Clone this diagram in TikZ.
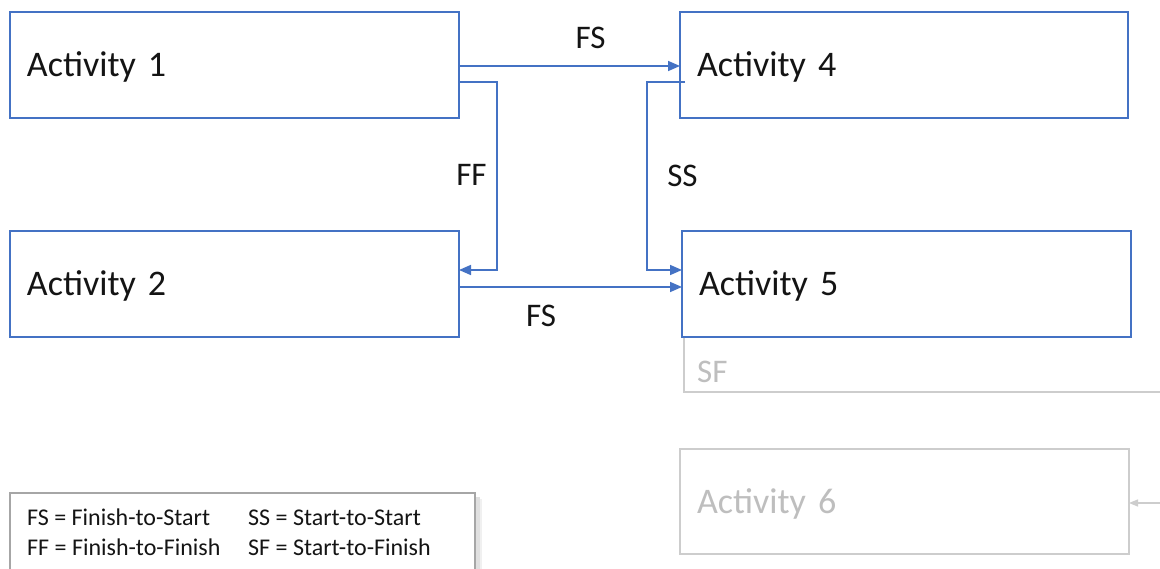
\documentclass[tikz,border=0pt]{standalone}
\usepackage{fontspec}
\setmainfont{Carlito}
\usetikzlibrary{arrows.meta,calc}
\definecolor{obl}{RGB}{68,114,196}
\definecolor{lgr}{RGB}{205,205,205}
\definecolor{tgr}{RGB}{190,190,190}
\definecolor{txt}{RGB}{20,20,20}
\tikzset{
  actbox/.style={draw=obl, line width=2pt, rectangle, minimum height=106pt,
    inner xsep=17pt, inner ysep=0pt, text width=#1, align=left, outer sep=0pt,
    text height=23.2pt, text depth=0pt, font=\fontsize{36}{40}\selectfont, text=txt},
  greybox/.style={draw=lgr, line width=1.6pt, rectangle, minimum height=105pt,
    inner xsep=17pt, inner ysep=0pt, text width=#1, align=left, outer sep=0pt,
    text height=23.2pt, text depth=0pt, font=\fontsize{36}{40}\selectfont, text=tgr},
  conn/.style={draw=obl, line width=1.6pt, -{Triangle[length=12pt,width=10pt]}},
  lbl/.style={inner sep=0pt, font=\fontsize{33}{36}\selectfont, text=txt},
  leg/.style={inner sep=0pt, anchor=west, font=\fontsize{24}{28}\selectfont, text=txt},
}
\begin{document}
\begin{tikzpicture}[x=1pt,y=-1pt]
\useasboundingbox (0,0) rectangle (1160,569);
\fill[white] (0,0) rectangle (1160,569);
% boxes
\node[actbox=415pt] (a1) at (234.5,65) {Activity 1};
\node[actbox=415pt] (a2) at (234.5,284) {Activity 2};
\node[actbox=414pt] (a4) at (904,65) {Activity 4};
\node[actbox=415pt] (a5) at (906.5,284) {Activity 5};
\node[greybox=415pt] (a6) at (904.5,501.5) {Activity 6};
% SF faded box
\draw[lgr, line width=1.4pt] (684,338) -- (684,392) -- (1160,392);
\coordinate (sfe) at (1160,503);
\draw[lgr, line width=1.2pt, -{Triangle[length=9pt,width=7pt]}] (sfe) -- (a6.east |- sfe);
\node[lbl, text=tgr, anchor=west] (lsf) at (697,372) {SF};
% connectors
\draw[conn] ($(a1.east)+(0,1)$) -- ($(a4.west)+(0,1)$);
\draw[conn] ($(a1.east)+(0,17)$) -| (497,176) |- ($(a2.east)+(0,-14)$);
\draw[conn] ($(a4.west)+(5,17)$) -| (647,176) |- ($(a5.west)+(0,-14)$);
\draw[conn] ($(a2.east)+(0,3)$) -- ($(a5.west)+(0,3)$);
% labels
\node[lbl] (lfs1) at (590.5,38) {FS};
\node[lbl] (lff) at (471.5,175) {FF};
\node[lbl] (lss) at (682.5,176) {SS};
\node[lbl] (lfs2) at (541,316) {FS};
% legend
\fill[black!12] (476,497) rectangle (480,575);
\fill[black!6] (480,499) rectangle (482,575);
\draw[draw=black!35, fill=white, line width=1.2pt] (10,493) rectangle (475,580);
\node[leg] (l1) at (27,517.5) {FS = Finish-to-Start};
\node[leg] (l2) at (248,517.5) {SS = Start-to-Start};
\node[leg] (l3) at (27,547) {FF = Finish-to-Finish};
\node[leg] (l4) at (248,547) {SF = Start-to-Finish};
\end{tikzpicture}
\end{document}
